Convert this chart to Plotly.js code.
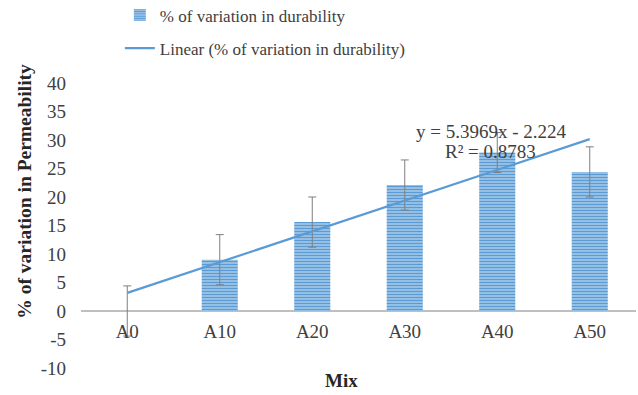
<!DOCTYPE html>
<html><head><meta charset="utf-8">
<script src="https://cdn.plot.ly/plotly-3.0.1.min.js"></script>
<style>html,body{margin:0;padding:0;background:#fff}#chart{width:638px;height:395px}
#chart .legendtext{font-family:"Liberation Serif", serif !important;}</style>
</head><body><div id="chart"></div>
<script>
const mixes = ["A0","A10","A20","A30","A40","A50"];
const variation = [0, 9.0, 15.6, 22.1, 27.8, 24.4];
const errors = [4.4, 4.4, 4.4, 4.4, 3.5, 4.4];
const yTickVals = [-10,-5,0,5,10,15,20,25,30,35,40];
const yTickText = ["-10","-5","0","5","10","15","20","25","30","35","40"];
const slope = 5.3969, intercept = -2.224;
const trendIndex = [1, 6];
const trendX = [mixes[0], mixes[mixes.length-1]];
const trendY = trendIndex.map(i => slope*i + intercept);

const serif = "Liberation Serif, serif";
const data = [
 {type:'bar', x:mixes, y:variation, name:'% of variation in durability',
  marker:{color:'#9dc3e6', pattern:{shape:'-', fgcolor:'#5b9bd5', bgcolor:'#a9cbea', size:3, solidity:0.5}},
  error_y:{type:'data', array:errors, visible:true, color:'#7f7f7f', thickness:1, width:4},
  legendgroup:'a'},
 {type:'scatter', mode:'lines', x:trendX, y:trendY, name:'Linear (% of variation in durability)',
  line:{color:'#5b9bd5', width:2.2}, legendgroup:'b'}
];
const layout = {
 width:638, height:395, margin:{l:81, r:2, t:83, b:27, autoexpand:false},
 paper_bgcolor:'#fff', plot_bgcolor:'#fff',
 font:{family:serif, size:19, color:'#404040'},
 bargap:0.61, showlegend:true,
 legend:{x:0.07, xanchor:'left', y:1.3, yanchor:'top', orientation:'v',
   traceorder:'grouped', tracegroupgap:8, font:{family:serif, size:17, color:'#404040'}, itemwidth:30},
 xaxis:{type:'category', anchor:'free', position:0.2, showgrid:false, showline:false, zeroline:false,
   ticks:'', ticklabelstandoff:7, tickfont:{family:serif, size:19, color:'#404040'}},
 yaxis:{range:[-10,40], tickvals:yTickVals, ticktext:yTickText, showgrid:false, showline:false, zeroline:true, zerolinecolor:'#bfbfbf', zerolinewidth:1.5,
   ticks:'', ticklabelstandoff:14, tickfont:{family:serif, size:19, color:'#404040'}},
 annotations:[
  {text:'<b>% of variation in Permeability</b>', textangle:-90, xref:'paper', yref:'paper',
   x:-0.102, y:0.62, xanchor:'center', yanchor:'middle', showarrow:false, font:{family:serif, size:19.5, color:'#262626'}},
  {text:'<b>Mix</b>', xref:'paper', yref:'paper', x:0.47, y:-0.045, xanchor:'center', yanchor:'middle', showarrow:false,
   font:{family:serif, size:19, color:'#262626'}},
  {text:'y = 5.3969x - 2.224', xref:'paper', yref:'paper', x:0.74, y:0.83, xanchor:'center', yanchor:'middle', showarrow:false,
   font:{family:serif, size:19, color:'#404040'}},
  {text:'R² = 0.8783', xref:'paper', yref:'paper', x:0.738, y:0.76, xanchor:'center', yanchor:'middle', showarrow:false,
   font:{family:serif, size:19, color:'#404040'}}
 ]
};
Plotly.newPlot('chart', data, layout, {displayModeBar:false});
</script></body></html>
